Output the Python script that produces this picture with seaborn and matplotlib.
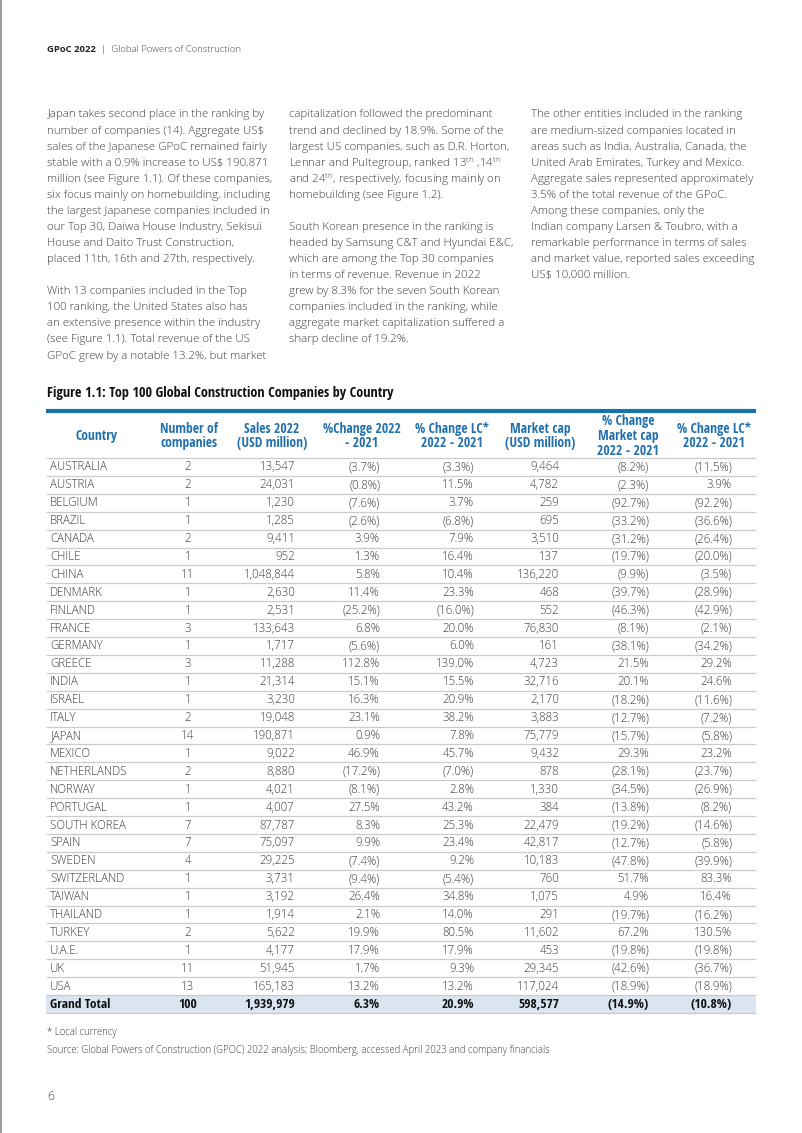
import numpy as np
import pandas as pd
import matplotlib
matplotlib.use('Agg')
import matplotlib.pyplot as plt
from matplotlib.colors import ListedColormap
from matplotlib.lines import Line2D
import seaborn as sns

# ---------------- data ----------------
countries = ["AUSTRALIA", "AUSTRIA", "BELGIUM", "BRAZIL", "CANADA", "CHILE", "CHINA",
             "DENMARK", "FINLAND", "FRANCE", "GERMANY", "GREECE", "INDIA", "ISRAEL",
             "ITALY", "JAPAN", "MEXICO", "NETHERLANDS", "NORWAY", "PORTUGAL",
             "SOUTH KOREA", "SPAIN", "SWEDEN", "SWITZERLAND", "TAIWAN", "THAILAND",
             "TURKEY", "U.A.E.", "UK", "USA"]
n_companies = [2, 2, 1, 1, 2, 1, 11, 1, 1, 3, 1, 3, 1, 1, 2, 14, 1, 2, 1, 1, 7, 7, 4, 1, 1, 1, 2, 1, 11, 13]
sales_2022 = [13547, 24031, 1230, 1285, 9411, 952, 1048844, 2630, 2531, 133643, 1717, 11288,
              21314, 3230, 19048, 190871, 9022, 8880, 4021, 4007, 87787, 75097, 29225, 3731,
              3192, 1914, 5622, 4177, 51945, 165183]
chg_sales = [-3.7, -0.8, -7.6, -2.6, 3.9, 1.3, 5.8, 11.4, -25.2, 6.8, -5.6, 112.8, 15.1, 16.3,
             23.1, 0.9, 46.9, -17.2, -8.1, 27.5, 8.3, 9.9, -7.4, -9.4, 26.4, 2.1, 19.9, 17.9, 1.7, 13.2]
chg_sales_lc = [-3.3, 11.5, 3.7, -6.8, 7.9, 16.4, 10.4, 23.3, -16.0, 20.0, 6.0, 139.0, 15.5, 20.9,
                38.2, 7.8, 45.7, -7.0, 2.8, 43.2, 25.3, 23.4, 9.2, -5.4, 34.8, 14.0, 80.5, 17.9, 9.3, 13.2]
market_cap = [9464, 4782, 259, 695, 3510, 137, 136220, 468, 552, 76830, 161, 4723, 32716, 2170,
              3883, 75779, 9432, 878, 1330, 384, 22479, 42817, 10183, 760, 1075, 291, 11602, 453,
              29345, 117024]
chg_mcap = [-8.2, -2.3, -92.7, -33.2, -31.2, -19.7, -9.9, -39.7, -46.3, -8.1, -38.1, 21.5, 20.1,
            -18.2, -12.7, -15.7, 29.3, -28.1, -34.5, -13.8, -19.2, -12.7, -47.8, 51.7, 4.9, -19.7,
            67.2, -19.8, -42.6, -18.9]
chg_mcap_lc = [-11.5, 3.9, -92.2, -36.6, -26.4, -20.0, -3.5, -28.9, -42.9, -2.1, -34.2, 29.2, 24.6,
               -11.6, -7.2, -5.8, 23.2, -23.7, -26.9, -8.2, -14.6, -5.8, -39.9, 83.3, 16.4, -16.2,
               130.5, -19.8, -36.7, -18.9]
total_row = ["Grand Total", 100, 1939979, 6.3, 20.9, 598577, -14.9, -10.8]

headers = ["Country", "Number of\ncompanies", "Sales 2022\n(USD million)", "%Change 2022\n- 2021",
           "% Change LC*\n2022 - 2021", "Market cap\n(USD million)", "% Change\nMarket cap\n2022 - 2021",
           "% Change LC*\n2022 - 2021"]

col1_lines = [
    "Japan takes second place in the ranking by",
    "number of companies (14). Aggregate US$",
    "sales of the Japanese GPoC remained fairly",
    "stable with a 0.9% increase to US$ 190,871",
    "million (see Figure 1.1). Of these companies,",
    "six focus mainly on homebuilding, including",
    "the largest Japanese companies included in",
    "our Top 30, Daiwa House Industry, Sekisui",
    "House and Daito Trust Construction,",
    "placed 11th, 16th and 27th, respectively.",
    "",
    "With 13 companies included in the Top",
    "100 ranking, the United States also has",
    "an extensive presence within the industry",
    "(see Figure 1.1). Total revenue of the US",
    "GPoC grew by a notable 13.2%, but market",
]
col2_lines = [
    "capitalization followed the predominant",
    "trend and declined by 18.9%. Some of the",
    "largest US companies, such as D.R. Horton,",
    r"Lennar and Pultegroup, ranked 13$^{\mathrm{th}}$ ,14$^{\mathrm{th}}$",
    r"and 24$^{\mathrm{th}}$, respectively, focusing mainly on",
    "homebuilding (see Figure 1.2).",
    "",
    "South Korean presence in the ranking is",
    "headed by Samsung C&T and Hyundai E&C,",
    "which are among the Top 30 companies",
    "in terms of revenue. Revenue in 2022",
    "grew by 8.3% for the seven South Korean",
    "companies included in the ranking, while",
    "aggregate market capitalization suffered a",
    "sharp decline of 19.2%.",
]
col3_lines = [
    "The other entities included in the ranking",
    "are medium-sized companies located in",
    "areas such as India, Australia, Canada, the",
    "United Arab Emirates, Turkey and Mexico.",
    "Aggregate sales represented approximately",
    "3.5% of the total revenue of the GPoC.",
    "Among these companies, only the",
    "Indian company Larsen & Toubro, with a",
    "remarkable performance in terms of sales",
    "and market value, reported sales exceeding",
    "US$ 10,000 million.",
]

# ---------------- style ----------------
sns.set_style('white')
plt.rcParams['font.family'] = ['Open Sans', 'DejaVu Sans']
plt.rcParams['mathtext.fontset'] = 'custom'
plt.rcParams['mathtext.rm'] = 'Open Sans:light'
plt.rcParams['mathtext.default'] = 'rm'

W, H = 802, 1133
fig = plt.figure(figsize=(W / 100, H / 100), dpi=100)
fig.patch.set_facecolor('white')


def fx(x):
    return x / W


def fy(y):
    return 1 - y / H


TXT = '#3d3d3d'
BLUE = '#1a6fad'
HBLUE = '#2270ad'
COND = ['Open Sans Condensed', 'Liberation Sans Narrow', 'Open Sans', 'DejaVu Sans']

# page border (left edge)
fig.add_artist(Line2D([fx(0.8), fx(0.8)], [0, 1], color='#8a8a8a', lw=1.2))

# running header
fig.text(fx(47), fy(50), "GPoC 2022", fontsize=6.8, fontweight='bold', color='#222222', va='center')
fig.text(fx(101), fy(50), "|  Global Powers of Construction", fontsize=6.8, color='#444444',
         va='center', fontweight='light')

# body text columns
LS = 16.07
for x0, lines in [(47, col1_lines), (289, col2_lines), (531, col3_lines)]:
    for i, line in enumerate(lines):
        if line:
            fig.text(fx(x0), fy(115 + i * LS), line, fontsize=8.25, color=TXT, va='center',
                     fontweight='light')

# figure title
fig.text(fx(47), fy(393), "Figure 1.1: Top 100 Global Construction Companies by Country",
         fontsize=10.3, fontweight='bold', color='#111111', va='center', family=COND)

# blue bar
fig.add_artist(Line2D([fx(46), fx(756)], [fy(411), fy(411)], lw=3.0, color=BLUE,
                      solid_capstyle='butt'))

# column headers
hdr_x = [97, 189, 272, 362, 452, 540, 628, 714]
for hx, h in zip(hdr_x, headers):
    fig.text(fx(hx), fy(436), h, fontsize=9.8, fontweight='bold', color=HBLUE, ha='center',
             va='center', multialignment='center', linespacing=1.05, family=COND)

# ---------------- table ----------------
T_LEFT, T_RIGHT, T_TOP, T_BOT = 46, 756, 458, 1013
ax = fig.add_axes([fx(T_LEFT), fy(T_BOT), fx(T_RIGHT) - fx(T_LEFT), (T_BOT - T_TOP) / H])

rows = countries + [total_row[0]]
bg = pd.DataFrame({'bg': [0] * len(countries) + [1]}, index=rows)
sns.heatmap(bg, ax=ax, cmap=ListedColormap(['white', '#dbe4f1']), cbar=False,
            xticklabels=False, yticklabels=False, linewidths=0)
ax.set_xlim(0, 1)
ax.set_ylim(len(rows), 0)
ax.set_axis_off()


def fmt_int(v):
    return f"{v:,}"


def fmt_pct(v):
    return f"({abs(v):.1f}%)" if v < 0 else f"{v:.1f}%"


def colx(px):
    return (px - T_LEFT) / (T_RIGHT - T_LEFT)


right_cols = [295, 380, 474, 559, 649, 732]
formats = [fmt_int, fmt_pct, fmt_pct, fmt_int, fmt_pct, fmt_pct]

table = list(zip(countries, n_companies, sales_2022, chg_sales, chg_sales_lc, market_cap,
                 chg_mcap, chg_mcap_lc)) + [tuple(total_row)]
for i, rec in enumerate(table):
    total = (i == len(table) - 1)
    fw = 'bold' if total else 'light'
    col = '#111111' if total else TXT
    fs = 9.6 if total else 8.3
    fam = COND if total else None
    yc = i + 0.5
    ax.text(colx(50), yc, rec[0], ha='left', va='center', fontsize=fs,
            fontweight=fw, color=col, family=fam)
    ax.text(colx(188), yc, str(rec[1]), ha='center', va='center', fontsize=fs, fontweight=fw,
            color=col, family=fam)
    for v, rx, f in zip(rec[2:], right_cols, formats):
        ax.text(colx(rx), yc, f(v), ha='right', va='center', fontsize=fs, fontweight=fw,
                color=col, family=fam)

ax.hlines(np.arange(0, len(rows) + 1), 0, 1, color='#cbcbcb', lw=0.9, clip_on=False)

# footnotes
fig.text(fx(47), fy(1033), "* Local currency", fontsize=6.9, color=TXT, va='center',
         fontweight='light')
fig.text(fx(47), fy(1051),
         "Source: Global Powers of Construction (GPOC) 2022 analysis; Bloomberg, accessed April 2023 and company financials",
         fontsize=6.85, color=TXT, va='center', fontweight='light')
fig.text(fx(47), fy(1097), "6", fontsize=9, color='#444444', va='center', fontweight='light')

fig.savefig('out.png', dpi=100, facecolor='white')
